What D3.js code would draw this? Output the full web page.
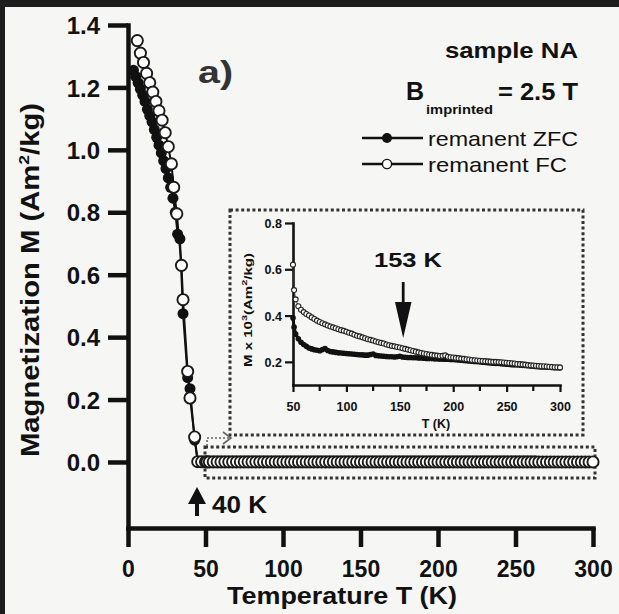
<!DOCTYPE html>
<html>
<head>
<meta charset="utf-8">
<script src="https://cdn.jsdelivr.net/npm/d3@7"></script>
<style>
  html, body { margin: 0; padding: 0; background: #f6f6f4; }
  svg { display: block; font-family: "Liberation Sans", Arial, Helvetica, sans-serif; }
</style>
</head>
<body>
<svg id="chart" width="619" height="614"></svg>
<script>
// ---------------- DATA ----------------
// Main plot: low-temperature part (Am^2/kg)
const zfcLowT = [3.5, 5, 6.5, 8, 9.5, 11, 12.5, 14, 15.5, 17, 18.5, 20, 21.5, 23, 24.5, 26, 27.5, 29, 30.5, 32, 33.5, 35.5, 38.5, 40, 43, 45, 47.5];
const zfcLowM = [1.255, 1.235, 1.215, 1.195, 1.175, 1.155, 1.13, 1.11, 1.09, 1.065, 1.04, 1.015, 0.99, 0.965, 0.94, 0.91, 0.88, 0.845, 0.80, 0.73, 0.715, 0.475, 0.27, 0.235, 0.07, 0.0009, 0.0006];
const fcLowT = [6, 8, 10, 12, 14, 16, 18, 20, 22, 24, 26, 28, 29.5, 31.5, 34.5, 35.5, 38.5, 40, 43, 45, 47.5];
const fcLowM = [1.35, 1.31, 1.28, 1.245, 1.215, 1.185, 1.155, 1.125, 1.095, 1.055, 1.01, 0.955, 0.88, 0.795, 0.63, 0.52, 0.29, 0.205, 0.08, 0.0009, 0.0007];

// Inset: T >= 50 K, values in M x 10^3 (Am^2/kg)
const insetT = [50, 51, 52.5, 55, 57.5, 60, 62.5, 65, 67.5, 70, 72.5, 75, 77.5, 80, 82.5, 85, 87.5, 90, 92.5, 95, 97.5, 100,
  102.5, 105, 107.5, 110, 112.5, 115, 117.5, 120, 122.5, 125, 127.5, 130, 132.5, 135, 137.5, 140, 142.5, 145, 147.5, 150,
  152.5, 155, 157.5, 160, 162.5, 165, 167.5, 170, 172.5, 175, 177.5, 180, 182.5, 185, 187.5, 190, 192.5, 195, 197.5, 200,
  202.5, 205, 207.5, 210, 212.5, 215, 217.5, 220, 222.5, 225, 227.5, 230, 232.5, 235, 237.5, 240, 242.5, 245, 247.5, 250,
  252.5, 255, 257.5, 260, 262.5, 265, 267.5, 270, 272.5, 275, 277.5, 280, 282.5, 285, 287.5, 290, 292.5, 295, 297.5, 300];
const insetFC = [0.62, 0.51,
  0.470, 0.440, 0.425, 0.415, 0.407, 0.400, 0.392, 0.385, 0.378, 0.372,
  0.367, 0.362, 0.357, 0.353, 0.349, 0.345, 0.341, 0.337, 0.334, 0.330,
  0.326, 0.322, 0.317, 0.313, 0.310, 0.306, 0.302, 0.298, 0.295, 0.292,
  0.288, 0.285, 0.282, 0.279, 0.275, 0.272, 0.269, 0.267, 0.264, 0.262,
  0.259, 0.256, 0.253, 0.250, 0.247, 0.244, 0.241, 0.238, 0.236, 0.234,
  0.232, 0.230, 0.228, 0.227, 0.225, 0.226, 0.228, 0.222, 0.220, 0.219,
  0.217, 0.216, 0.214, 0.213, 0.211, 0.210, 0.208, 0.207, 0.206, 0.205,
  0.204, 0.203, 0.202, 0.201, 0.200, 0.200, 0.199, 0.198, 0.197, 0.196,
  0.195, 0.194, 0.193, 0.191, 0.190, 0.189, 0.188, 0.186, 0.185, 0.184,
  0.183, 0.182, 0.181, 0.181, 0.180, 0.179, 0.178, 0.177, 0.177, 0.176];
const insetZFC = [0.390, 0.350,
  0.320, 0.300, 0.285, 0.275, 0.267, 0.260, 0.256, 0.252, 0.250, 0.248,
  0.253, 0.257, 0.249, 0.245, 0.243, 0.241, 0.239, 0.238, 0.237, 0.236,
  0.235, 0.234, 0.233, 0.232, 0.231, 0.230, 0.229, 0.229, 0.232, 0.234,
  0.228, 0.226, 0.225, 0.224, 0.223, 0.222, 0.222, 0.221, 0.222, 0.224,
  0.221, 0.220, 0.219, 0.219, 0.218, 0.218, 0.217, 0.217, 0.216, 0.215,
  0.214, 0.214, 0.213, 0.213, 0.212, 0.212, 0.211, 0.211, 0.210, 0.210,
  0.209, 0.208, 0.207, 0.206, 0.205, 0.204, 0.203, 0.202, 0.201, 0.200,
  0.198, 0.197, 0.196, 0.195, 0.194, 0.193, 0.193, 0.192, 0.191, 0.190,
  0.189, 0.188, 0.187, 0.187, 0.186, 0.185, 0.184, 0.183, 0.182, 0.181,
  0.180, 0.179, 0.178, 0.178, 0.177, 0.177, 0.176, 0.175, 0.175, 0.174];

const mainXTicks = [0, 50, 100, 150, 200, 250, 300];
const mainYTicks = [0.0, 0.2, 0.4, 0.6, 0.8, 1.0, 1.2, 1.4];
const insetXTicks = [50, 100, 150, 200, 250, 300];
const insetXMinor = [75, 125, 175, 225, 275];
const insetYTicks = [0.2, 0.4, 0.6, 0.8];
const seriesNames = ["remanent ZFC", "remanent FC"];

// ---------------- DRAW ----------------
const svg = d3.select("#chart");
const ink = "#111";

svg.append("rect").attr("width", 619).attr("height", 614).attr("fill", "#f6f6f4");
svg.append("rect").attr("x", 0).attr("y", 0).attr("width", 619).attr("height", 7).attr("fill", "#1d1d1d");
svg.append("rect").attr("x", 0).attr("y", 0).attr("width", 5).attr("height", 614).attr("fill", "#1d1d1d");

// main scales
const x = d3.scaleLinear().domain([0, 300]).range([128, 593]);
const y = d3.scaleLinear().domain([-0.2115, 1.4]).range([528, 25]);

// combine main data (inset values are x10^-3)
const mainZFC = zfcLowT.map((t, i) => ({t, m: zfcLowM[i]}))
  .concat(insetT.map((t, i) => ({t, m: insetZFC[i] * 1e-3})));
const mainFC = fcLowT.map((t, i) => ({t, m: fcLowM[i]}))
  .concat(insetT.map((t, i) => ({t, m: insetFC[i] * 1e-3})));

// axes
const yAxis = d3.axisLeft(y).tickValues(mainYTicks).tickSize(20).tickSizeOuter(0).tickPadding(8)
  .tickFormat(d3.format(".1f"));
const xAxis = d3.axisBottom(x).tickValues(mainXTicks).tickSize(19).tickSizeOuter(0).tickFormat(d3.format("d"));

const gy = svg.append("g").attr("transform", "translate(128,0)").call(yAxis);
const gx = svg.append("g").attr("transform", "translate(0,528)").call(xAxis);
[gx, gy].forEach(g => {
  g.selectAll("path.domain").attr("stroke", ink).attr("stroke-width", 4.5).attr("stroke-linecap", "square");
  g.selectAll(".tick line").attr("stroke", ink).attr("stroke-width", 4.5);
  g.selectAll(".tick text").attr("fill", ink).attr("font-size", 24).attr("font-weight", "bold")
    .attr("font-family", "Liberation Sans, Arial, sans-serif");
});
gx.selectAll(".tick text").attr("font-size", 23).attr("y", 49).attr("dy", 0);
gy.selectAll(".tick text").attr("dy", "0.36em");

// axis titles
svg.append("text").attr("x", 342).attr("y", 604).attr("text-anchor", "middle")
  .attr("font-size", 23).attr("font-weight", "bold").attr("fill", ink)
  .attr("textLength", 230).attr("lengthAdjust", "spacingAndGlyphs")
  .text("Temperature T (K)");

const yl = svg.append("text").attr("transform", "translate(39,280) rotate(-90)")
  .attr("text-anchor", "middle").attr("font-size", 25).attr("font-weight", "bold").attr("fill", ink)
  .attr("textLength", 354).attr("lengthAdjust", "spacingAndGlyphs");
yl.append("tspan").text("Magnetization M (Am");
yl.append("tspan").attr("dy", -10).attr("font-size", 15).text("2");
yl.append("tspan").attr("dy", 10).text("/kg)");

// panel label
svg.append("text").attr("x", 198).attr("y", 83).attr("font-size", 32).attr("font-weight", "bold")
  .attr("fill", "#333").attr("textLength", 35).attr("lengthAdjust", "spacingAndGlyphs").text("a)");

// dotted boxes
const dotted = (x0, y0, x1, y1) => svg.append("rect").attr("x", x0).attr("y", y0)
  .attr("width", x1 - x0).attr("height", y1 - y0).attr("fill", "none")
  .attr("stroke", "#333").attr("stroke-width", 3).attr("stroke-dasharray", "3,2.6");
dotted(205, 447, 595, 478);
dotted(230, 210, 583, 435);

// dotted arrow from band to inset
svg.append("path").attr("d", "M207,446 V438 H230").attr("fill", "none").attr("stroke", "#666")
  .attr("stroke-width", 1.6).attr("stroke-dasharray", "2,2");
svg.append("path").attr("d", "M223,432 L231,438 L223,444").attr("fill", "none").attr("stroke", "#666")
  .attr("stroke-width", 1.6);

// main series
const lineMain = d3.line().x(d => x(d.t)).y(d => y(d.m));
svg.append("path").datum(mainZFC).attr("d", lineMain).attr("fill", "none").attr("stroke", ink).attr("stroke-width", 2);
svg.append("path").datum(mainFC).attr("d", lineMain).attr("fill", "none").attr("stroke", ink).attr("stroke-width", 2);
svg.append("g").selectAll("circle").data(mainZFC).join("circle")
  .attr("cx", d => x(d.t)).attr("cy", d => y(d.m)).attr("r", 5.5).attr("fill", ink);
svg.append("g").selectAll("circle").data(mainFC).join("circle")
  .attr("cx", d => x(d.t)).attr("cy", d => y(d.m)).attr("r", 5.6)
  .attr("fill", "#fff").attr("stroke", "#1a1a1a").attr("stroke-width", 1.9);

// 40 K arrow
svg.append("path").attr("d", "M197,487 L206,504 L199,504 L199,516 L195,516 L195,504 L188,504 Z").attr("fill", ink);
svg.append("text").attr("x", 212).attr("y", 513).attr("font-size", 23).attr("font-weight", "bold")
  .attr("fill", ink).attr("textLength", 55).attr("lengthAdjust", "spacingAndGlyphs").text("40 K");

// ---------- inset ----------
const xi = d3.scaleLinear().domain([50, 300]).range([293, 560]);
const yi = d3.scaleLinear().domain([0.1, 0.8]).range([385, 223]);

const yiAxis = d3.axisLeft(yi).tickValues(insetYTicks).tickSize(8).tickSizeOuter(0).tickPadding(3).tickFormat(d3.format(".1f"));
const xiAxis = d3.axisBottom(xi).tickValues(insetXTicks).tickSize(7).tickSizeOuter(0).tickPadding(8).tickFormat(d3.format("d"));
const gyi = svg.append("g").attr("transform", "translate(293,0)").call(yiAxis);
const gxi = svg.append("g").attr("transform", "translate(0,385)").call(xiAxis);
[gxi, gyi].forEach(g => {
  g.selectAll("path.domain").attr("stroke", ink).attr("stroke-width", 2.6).attr("stroke-linecap", "square");
  g.selectAll(".tick line").attr("stroke", ink).attr("stroke-width", 2.2);
  g.selectAll(".tick text").attr("fill", ink).attr("font-size", 12.5).attr("font-weight", "bold")
    .attr("font-family", "Liberation Sans, Arial, sans-serif");
});
gxi.selectAll(".tick text").attr("y", 26).attr("dy", 0);
gyi.selectAll(".tick text").attr("dy", "0.36em");
svg.append("g").selectAll("line").data(insetXMinor).join("line")
  .attr("x1", d => xi(d)).attr("x2", d => xi(d)).attr("y1", 385).attr("y2", 391)
  .attr("stroke", ink).attr("stroke-width", 2.2);

svg.append("text").attr("x", 436).attr("y", 428).attr("text-anchor", "middle").attr("font-size", 12.5)
  .attr("font-weight", "bold").attr("fill", ink).text("T (K)");
const yli = svg.append("text").attr("transform", "translate(252,310) rotate(-90)").attr("text-anchor", "middle")
  .attr("font-size", 11).attr("font-weight", "bold").attr("fill", ink)
  .attr("textLength", 114).attr("lengthAdjust", "spacingAndGlyphs");
yli.append("tspan").text("M  x 10");
yli.append("tspan").attr("dy", -5).attr("font-size", 8).text("3");
yli.append("tspan").attr("dy", 5).text("(Am");
yli.append("tspan").attr("dy", -5).attr("font-size", 8).text("2");
yli.append("tspan").attr("dy", 5).text("/kg)");

const insetZ = insetT.map((t, i) => ({t, m: insetZFC[i]}));
const insetF = insetT.map((t, i) => ({t, m: insetFC[i]}));
const lineInset = d3.line().x(d => xi(d.t)).y(d => yi(d.m));
svg.append("path").datum(insetZ).attr("d", lineInset).attr("fill", "none").attr("stroke", ink).attr("stroke-width", 3);
svg.append("g").selectAll("circle").data(insetZ).join("circle")
  .attr("cx", d => xi(d.t)).attr("cy", d => yi(d.m)).attr("r", 2.8).attr("fill", ink);
svg.append("path").datum(insetF).attr("d", lineInset).attr("fill", "none").attr("stroke", "#333").attr("stroke-width", 1);
svg.append("g").selectAll("circle").data(insetF).join("circle")
  .attr("cx", d => xi(d.t)).attr("cy", d => yi(d.m)).attr("r", 2.5)
  .attr("fill", "#fff").attr("stroke", "#222").attr("stroke-width", 1.1);

// 153 K annotation
svg.append("text").attr("x", 374).attr("y", 267).attr("font-size", 21).attr("font-weight", "bold")
  .attr("fill", ink).attr("textLength", 68).attr("lengthAdjust", "spacingAndGlyphs").text("153 K");
svg.append("path").attr("d", "M401.8,282 H404.6 V302 H411.5 L403.2,338 L395,302 H401.8 Z").attr("fill", ink);

// ---------- legend ----------
svg.append("text").attr("x", 578).attr("y", 58).attr("text-anchor", "end").attr("font-size", 22)
  .attr("font-weight", "bold").attr("fill", ink).attr("textLength", 133).attr("lengthAdjust", "spacingAndGlyphs")
  .text("sample NA");
svg.append("text").attr("x", 406).attr("y", 100).attr("font-size", 25).attr("font-weight", "bold")
  .attr("fill", ink).text("B");
svg.append("text").attr("x", 426).attr("y", 114).attr("font-size", 13).attr("font-weight", "bold")
  .attr("fill", ink).attr("textLength", 67).attr("lengthAdjust", "spacingAndGlyphs").text("imprinted");
svg.append("text").attr("x", 578).attr("y", 100).attr("text-anchor", "end").attr("font-size", 23)
  .attr("font-weight", "bold").attr("fill", ink).attr("textLength", 80).attr("lengthAdjust", "spacingAndGlyphs")
  .text("= 2.5 T");

const legY = [138, 164];
const legW = [150, 139];
seriesNames.forEach((name, i) => {
  const g = svg.append("g");
  g.append("line").attr("x1", 362).attr("x2", 423).attr("y1", legY[i]).attr("y2", legY[i])
    .attr("stroke", ink).attr("stroke-width", 2.5);
  g.append("circle").attr("cx", 387).attr("cy", legY[i]).attr("r", i === 0 ? 5 : 4.6)
    .attr("fill", i === 0 ? ink : "#fff").attr("stroke", ink).attr("stroke-width", i === 0 ? 0 : 1.4);
  g.append("text").attr("x", 428).attr("y", legY[i] + 8).attr("font-size", 21).attr("fill", ink)
    .attr("textLength", legW[i]).attr("lengthAdjust", "spacingAndGlyphs").text(name);
});
</script>
</body>
</html>
